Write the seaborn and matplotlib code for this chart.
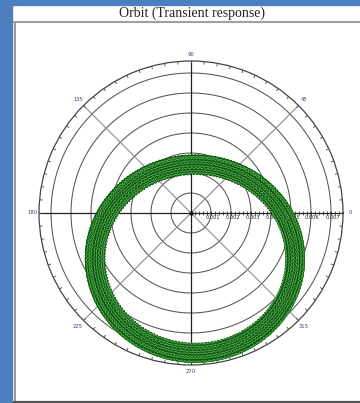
import numpy as np
import pandas as pd
import matplotlib
matplotlib.use("Agg")
import matplotlib.pyplot as plt
import matplotlib.transforms as mtransforms
from matplotlib.patches import Rectangle
import seaborn as sns

# ---- chart content -------------------------------------------------------
title = "Orbit (Transient response)"
angle_ticks = [0, 45, 90, 135, 180, 225, 270, 315]
ring_values = [0.001, 0.002, 0.003, 0.004, 0.005, 0.006, 0.007]
ring_labels = ["0.001", "0.002", "0.003", "0.004", "0.005", "0.006", "0.007"]
r_max = 0.0076

# orbit: centre of the settled whirl (x, y) and its semi-axes
orbit_center = (0.0002, -0.00228)
orbit_axes = (0.00500, 0.00470)
# radial offset, centre drift and ripple of the successive passes
pass_offsets = [-0.00046, -0.00042, -0.00038, -0.00034, -0.00030, -0.00026,
                -0.00022, -0.00018, -0.00014, -0.00010, -0.00006, -0.00002,
                0.00002, 0.00006, 0.00010, 0.00014, 0.00018, 0.00022,
                0.00026, 0.00030, 0.00034, 0.00038, 0.00042, 0.00046]
pass_drift_x = [0.00002, -0.00001, 0.00001, -0.00002, 0.00001, 0.00000,
                -0.00001, 0.00002, -0.00001, 0.00001, 0.00001, -0.00002,
                0.00000, 0.00001, -0.00001, 0.00002, -0.00001, 0.00001,
                -0.00002, 0.00001, 0.00000, -0.00001, 0.00001, -0.00001]
pass_drift_y = [-0.00001, 0.00001, 0.00002, -0.00001, 0.00000, 0.00001,
                -0.00002, 0.00001, 0.00001, -0.00001, 0.00000, 0.00002,
                -0.00001, 0.00001, -0.00002, 0.00001, 0.00000, -0.00001,
                0.00001, 0.00002, -0.00001, 0.00001, -0.00002, 0.00001]
pass_ripple = [0.000035, 0.000025, 0.00004, 0.00003, 0.00002, 0.000035,
               0.000025, 0.00004, 0.00003, 0.000035, 0.00002, 0.00003,
               0.00004, 0.000025, 0.000035, 0.00003, 0.00002, 0.00004,
               0.000025, 0.000035, 0.00003, 0.00004, 0.000025, 0.00003]
ripple_order = [173, 211, 157, 239, 191, 167, 251, 149, 223, 181, 199, 163,
                233, 151, 227, 179, 193, 241, 159, 217, 187, 245, 169, 207]

# ---- build orbit table (x, y of each pass converted to polar) -------------
phase = np.linspace(0, 2 * np.pi, 6001)
rows = []
for k in range(len(pass_offsets)):
    wob = pass_ripple[k] * np.sin(ripple_order[k] * phase + k)
    x = orbit_center[0] + pass_drift_x[k] + (orbit_axes[0] + pass_offsets[k] + wob) * np.cos(phase)
    y = orbit_center[1] + pass_drift_y[k] + (orbit_axes[1] + pass_offsets[k] + wob) * np.sin(phase)
    th = np.unwrap(np.arctan2(y, x))
    rows.append(pd.DataFrame({"theta": th, "r": np.hypot(x, y), "pass": k}))
orbit = pd.concat(rows, ignore_index=True)

# ---- figure & frame -------------------------------------------------------
W, H = 360, 403
fig = plt.figure(figsize=(W / 100, H / 100), dpi=100)
fig.patch.set_facecolor("white")

def px_rect(x0, y0, w, h, **kw):
    fig.patches.append(Rectangle((x0 / W, 1 - (y0 + h) / H), w / W, h / H,
                                 transform=fig.transFigure, figure=fig, **kw))

px_rect(0, 0, 12, H, color="#4d7fbc", zorder=0)
px_rect(0, 0, W, 5, color="#4d7fbc", zorder=0)
# inner panel border
fig.add_artist(plt.Line2D([14.5 / W, 14.5 / W], [1 - 22 / H, 1 - 401.5 / H],
                          transform=fig.transFigure, color="#8a8a8a", lw=1.2))
fig.add_artist(plt.Line2D([14 / W, 1.0], [1 - 22 / H, 1 - 22 / H],
                          transform=fig.transFigure, color="#a0a0a0", lw=1.5))
fig.add_artist(plt.Line2D([14 / W, 1.0], [1 - 401.5 / H, 1 - 401.5 / H],
                          transform=fig.transFigure, color="#555555", lw=1.6))

fig.text(192 / W, 1 - 13 / H, title, ha="center", va="center",
         fontsize=10, family="Liberation Serif", color="#222222")

# ---- polar axes -----------------------------------------------------------
cx, cy, R = 191, 213, 152
ax = fig.add_axes([(cx - R) / W, 1 - (cy + R) / H, 2 * R / W, 2 * R / H],
                  projection="polar")
ax.set_facecolor("none")
ax.grid(False)
ax.spines["polar"].set_color("#444444")
ax.spines["polar"].set_linewidth(0.9)

# rings
ring_phase = np.linspace(0, 2 * np.pi, 400)
for rv in ring_values:
    ax.plot(ring_phase, np.full_like(ring_phase, rv), color="#555555", lw=0.75, zorder=1)

# spokes
for a in angle_ticks:
    t = np.deg2rad(a)
    main = a % 90 == 0
    ax.plot([t, t], [0, r_max], color="#202020" if main else "#8c8c8c",
            lw=0.9 if main else 0.8, zorder=1)

# tick marks around the outer circle every 5 degrees
for a in range(0, 360, 5):
    t = np.deg2rad(a)
    ax.plot([t, t], [r_max - 0.00013, r_max], color="#444444", lw=0.6, zorder=1)

# minor ticks along the 0-degree axis
minor = np.arange(0.0002, r_max, 0.0002)
ax.plot(np.zeros_like(minor), minor, ls="none", marker="|", ms=2.2,
        mew=0.5, color="#222222", zorder=2)

# orbit band: bright base, then the individual passes
base = orbit[orbit["pass"] == 12]
sns.lineplot(data=base, x="theta", y="r", sort=False, estimator=None,
             color="#1e961e", linewidth=13.0, solid_capstyle="round",
             solid_joinstyle="round", ax=ax, zorder=3, legend=False)
sns.lineplot(data=orbit, x="theta", y="r", units="pass", sort=False,
             estimator=None, color="#0a520a", linewidth=0.65, ax=ax, zorder=4,
             legend=False)
sns.lineplot(data=orbit[orbit["pass"] % 3 == 1], x="theta", y="r", units="pass",
             sort=False, estimator=None, color="#8ada8a", linewidth=0.35, ax=ax,
             zorder=5, legend=False)
ax.set_xlabel("")
ax.set_ylabel("")
ax.set_xticks([])
ax.set_yticks([])
ax.set_ylim(0, r_max)

# centre dot
ax.plot([0], [0], marker="o", ms=2, color="#111111", zorder=6)

# angle labels
lab_off = {0: (5, 0), 45: (4, 4), 90: (0, 5), 135: (-4, 4),
           180: (-5, 0), 225: (-4, -4), 270: (0, -5), 315: (4, -4)}
for a in angle_ticks:
    dx, dy = lab_off[a]
    tr = mtransforms.offset_copy(ax.transData, fig=fig, x=dx, y=dy, units="points")
    ax.text(np.deg2rad(a), r_max, str(a), transform=tr, ha="center", va="center",
            fontsize=3.8, color="#34467a", zorder=7)

# radial value labels under the 0-degree axis
tr = mtransforms.offset_copy(ax.transData, fig=fig, x=1, y=-3.5, units="points")
for rv, lab in zip(ring_values, ring_labels):
    ax.text(0, rv, lab, transform=tr, ha="center", va="center",
            fontsize=3.6, color="#222222", zorder=2)

fig.savefig("out.png", dpi=100)
